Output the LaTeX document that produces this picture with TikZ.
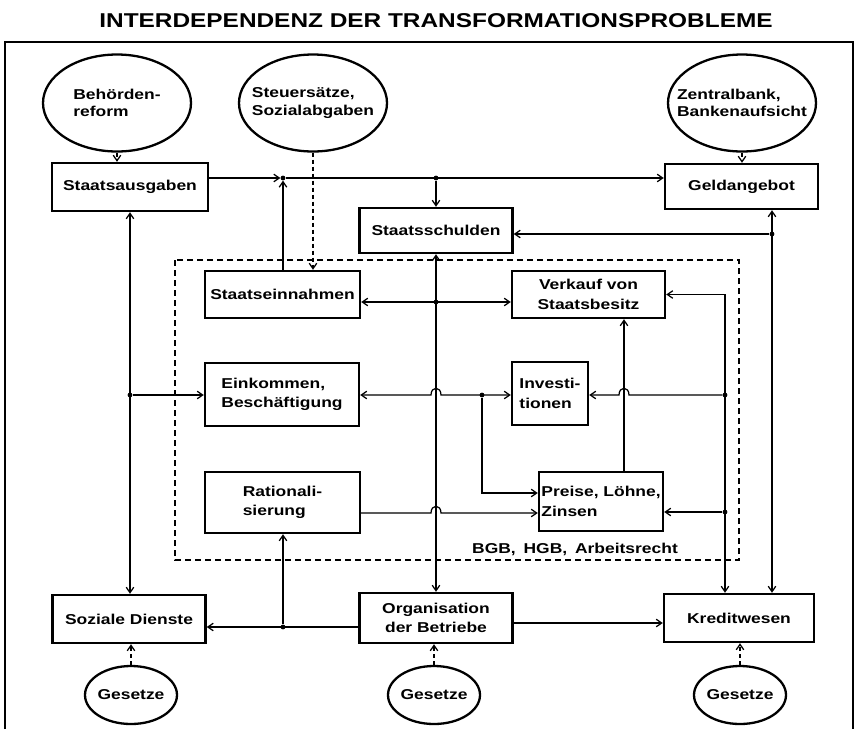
\documentclass[tikz,border=0pt]{standalone}
\usepackage{fontspec}
\setmainfont[FakeStretch=1.22]{Liberation Sans}
\usetikzlibrary{arrows.meta,shapes.geometric,calc}
\begin{document}
\begin{tikzpicture}[x=1pt,y=-1pt,
 box/.style={draw,line width=2.4pt,inner sep=0pt,font=\fontsize{14.3}{19.5}\selectfont\bfseries,align=center},
 ring/.style={draw,ellipse,line width=2.3pt,inner sep=0pt,minimum width=148pt,minimum height=97pt},
 smallring/.style={draw,ellipse,line width=2.3pt,inner sep=0pt,minimum width=92pt,minimum height=58pt},
 ringtext/.style={inner sep=0pt,align=left,font=\fontsize{14.3}{17.5}\selectfont\bfseries},
 jdot/.style={circle,fill,inner sep=0pt,minimum size=4.8pt},
 con/.style={line width=1.25pt},
 arr/.style={con,-{Straight Barb[length=5.5pt,width=7.5pt]}},
 darr/.style={con,{Straight Barb[length=5.5pt,width=7.5pt]}-{Straight Barb[length=5.5pt,width=7.5pt]}},
 dasharr/.style={arr,dash pattern=on 4pt off 3pt},
]
\useasboundingbox (0,0) rectangle (857,729);

% title and frame
\node[font=\fontsize{20}{24}\selectfont\bfseries,inner sep=0pt] (title) at (436,21) {INTERDEPENDENZ DER TRANSFORMATIONSPROBLEME};
\draw[line width=1.4pt] (5,729) -- (5,42) -- (853,42) -- (853,729);
\draw[line width=1.3pt,dash pattern=on 6pt off 4pt] (175,260) rectangle (739,560);
\node[font=\fontsize{14.3}{17}\selectfont\bfseries,inner sep=0pt] (bgb) at (575,549) {BGB,\hspace{3pt} HGB,\hspace{3pt} Arbeitsrecht};

% circles
\node[ring] (beh) at (117,103) {};
\node[ringtext] (beht) at (beh) {Behörden-\\reform};
\node[ring] (steu) at (313,103) {};
\node[ringtext] (steut) at (steu) {Steuersätze,\\Sozialabgaben};
\node[ring] (zen) at (742,103) {};
\node[ringtext] (zent) at (zen) {Zentralbank,\\Bankenaufsicht};
\node[smallring] (g1) at (131,695) {};
\node[ringtext] (g1t) at (g1) {Gesetze};
\node[smallring] (g2) at (434,695) {};
\node[ringtext] (g2t) at (g2) {Gesetze};
\node[smallring] (g3) at (740,695) {};
\node[ringtext] (g3t) at (g3) {Gesetze};

% boxes
\node[box,minimum width=156pt,minimum height=48pt] (sa) at (130,187) {Staatsausgaben};
\node[box,minimum width=153pt,minimum height=45pt] (geld) at (741.5,186.5) {Geldangebot};
\node[box,minimum width=153pt,minimum height=45pt] (schuld) at (436,230.5) {Staatsschulden};
\node[box,minimum width=155pt,minimum height=47pt] (einn) at (282.5,294.5) {Staatseinnahmen};
\node[box,minimum width=153pt,minimum height=47pt] (verk) at (588.5,294.5) {Verkauf von\\Staatsbesitz};
\node[box,align=left,minimum width=154pt,minimum height=63pt] (eink) at (282,394.5) {Einkommen,\\Beschäftigung};
\node[box,align=left,minimum width=76pt,minimum height=63pt] (inv) at (550,393.5) {Investi-\\tionen};
\node[box,align=left,minimum width=155pt,minimum height=61pt] (rat) at (282.5,502.5) {Rationali-\\sierung};
\node[box,align=left,minimum width=124pt,minimum height=59pt] (preise) at (601,501.5) {Preise, Löhne,\\Zinsen};
\node[box,minimum width=153pt,minimum height=48pt] (soz) at (129,619) {Soziale Dienste};
\node[box,minimum width=153pt,minimum height=50pt] (org) at (436,618) {Organisation\\der Betriebe};
\node[box,minimum width=150pt,minimum height=48pt] (kred) at (739,618) {Kreditwesen};

% junction dots
\node[jdot] (j1) at (283,178) {};
\node[jdot] (j2) at (436,178) {};
\node[jdot] (j3) at (130,395) {};
\node[jdot] (j4) at (283,627) {};
\node[jdot] (j5) at (436,302) {};
\node[jdot] (j6) at (482,395) {};
\node[jdot] (j7) at (725,395) {};
\node[jdot] (j8) at (725,512) {};
\node[jdot] (j9) at (772,234) {};

% dashed inputs
\draw[dasharr] (beh.south) -- (beh.south |- sa.north);
\draw[dasharr] (steu.south) -- (steu.south |- einn.north);
\draw[dasharr] (zen.south) -- (zen.south |- geld.north);
\draw[dasharr] (g1.north) -- (g1.north |- soz.south);
\draw[dasharr] (g2.north) -- (g2.north |- org.south);
\draw[dasharr] (g3.north) -- (g3.north |- kred.south);

% top line
\draw[arr] (sa.east |- j1) -- (j1);
\draw[arr] (j1 |- einn.north) -- (j1);
\draw[arr] (j1) -- (geld.west |- j1);
\draw[arr] (j2) -- (j2 |- schuld.north);

% left vertical
\draw[darr] (j3 |- sa.south) -- (j3 |- soz.north);
\draw[arr] (j3) -- (eink.west |- j3);

% central vertical
\draw[darr] (j5 |- schuld.south) -- (j5 |- org.north);
\draw[darr] (einn.east |- j5) -- (verk.west |- j5);

% Einkommen - Investitionen
\draw[darr] (eink.east |- j6) -- ($(j5 |- j6)+(-5,0)$) .. controls +(0,-9) and +(0,-9) .. ($(j5 |- j6)+(5,0)$) -- (inv.west |- j6);
\coordinate (p1) at ($(preise.west)+(0,-8.5)$);
\draw[arr] (j6) |- (p1);

% Rationalisierung - Preise
\coordinate (r1) at ($(rat.east)+(0,10.5)$);
\draw[arr] (r1) -- ($(j5 |- r1)+(-5,0)$) .. controls +(0,-9) and +(0,-9) .. ($(j5 |- r1)+(5,0)$) -- (preise.west |- r1);

% Preise - Verkauf
\coordinate (pv) at ($(preise.north)+(23,0)$);
\draw[arr] (pv) -- (pv |- verk.south);

% right inner vertical
\draw[darr] (verk.east) -- (verk.east -| j7) -- (j8 |- kred.north);
\draw[arr] (j7) -- ($(pv |- j7)+(5,0)$) .. controls +(0,-9) and +(0,-9) .. ($(pv |- j7)+(-5,0)$) -- (inv.east |- j7);
\draw[arr] (j8) -- (preise.east |- j8);

% right outer vertical
\draw[darr] (j9 |- geld.south) -- (j9 |- kred.north);
\draw[arr] (j9) -- (schuld.east |- j9);

% bottom
\draw[arr] (org.west |- j4) -- (soz.east |- j4);
\draw[arr] (j4) -- (j4 |- rat.south);
\coordinate (o1) at ($(org.east)+(0,5)$);
\draw[arr] (o1) -- (kred.west |- o1);
\end{tikzpicture}
\end{document}
